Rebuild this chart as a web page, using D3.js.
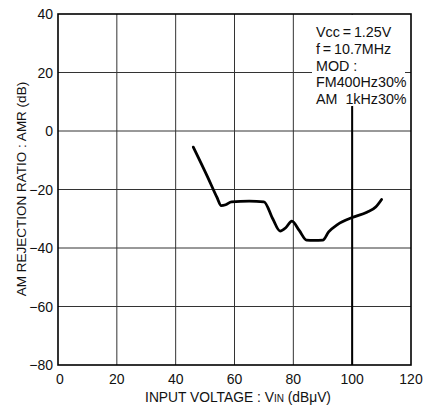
<!DOCTYPE html>
<html lang="en">
<head>
<meta charset="UTF-8">
<title>AM rejection ratio</title>
<script src="https://cdn.jsdelivr.net/npm/d3@7"></script>
<style>
  body { margin: 0; background: #fff; }
  text { font-family: "Liberation Sans", Arial, sans-serif; fill: #111; }
</style>
</head>
<body>
<svg width="432" height="405"></svg>
<script>
// curve: input voltage (dBuV) vs AMR (dB)
const vin = [46, 51, 54, 55.5, 57, 59, 65, 70, 73, 75.5, 77.5, 79.5, 82, 84.5, 87, 90, 92, 95, 100, 105, 108, 110];
const amr = [-5.5, -16, -22.6, -25.5, -25.2, -24.2, -24, -24.2, -30, -34.2, -33, -30.8, -34, -37.3, -37.4, -37.3, -34.5, -32, -29.6, -27.8, -26, -23.4];
const xTicks = [0, 20, 40, 60, 80, 100, 120];
const yTicks = [-80, -60, -40, -20, 0, 20, 40];
const notes = ["Vcc\u2009=\u20091.25V", "f\u2009=\u200910.7MHz", "MOD :", "FM400Hz30%", "AM  1kHz30%"];

const svg = d3.select("svg");
const x = d3.scaleLinear().domain([0, 120]).range([58, 411]);
const y = d3.scaleLinear().domain([-80, 40]).range([365, 14]);

// grid
svg.append("g").selectAll("line").data(xTicks.slice(1, -1)).enter().append("line")
  .attr("x1", d => x(d)).attr("x2", d => x(d))
  .attr("y1", y(40)).attr("y2", y(-80))
  .attr("stroke", "#333").attr("stroke-width", 1);
svg.append("g").selectAll("line").data(yTicks.slice(1, -1)).enter().append("line")
  .attr("x1", x(0)).attr("x2", x(120))
  .attr("y1", d => y(d)).attr("y2", d => y(d))
  .attr("stroke", "#333").attr("stroke-width", 1);

// blank area behind the notes
svg.append("rect").attr("x", 312).attr("y", y(40) + 1).attr("width", 93).attr("height", 92)
  .attr("fill", "#fff");

// marker line at 100 dBuV
svg.append("line")
  .attr("x1", x(100)).attr("x2", x(100)).attr("y1", 106).attr("y2", y(-80))
  .attr("stroke", "#000").attr("stroke-width", 2);

// frame
svg.append("rect").attr("x", x(0)).attr("y", y(40))
  .attr("width", x(120) - x(0)).attr("height", y(-80) - y(40))
  .attr("fill", "none").attr("stroke", "#000").attr("stroke-width", 1.6);

// tick labels
svg.append("g").selectAll("text").data(yTicks).enter().append("text")
  .attr("x", 53).attr("y", d => y(d) + 5)
  .attr("text-anchor", "end").attr("font-size", 14)
  .text(d => d < 0 ? "\u2212" + Math.abs(d) : d);
svg.append("g").selectAll("text").data(xTicks).enter().append("text")
  .attr("x", d => x(d) + (d === 0 ? 2 : 0)).attr("y", 384)
  .attr("text-anchor", "middle").attr("font-size", 14)
  .text(d => d);

// axis titles
const xt = svg.append("text").attr("x", 238).attr("y", 402)
  .attr("text-anchor", "middle").attr("font-size", 13.8);
xt.append("tspan").text("INPUT VOLTAGE : V");
xt.append("tspan").attr("font-size", 10).text("IN");
xt.append("tspan").text(" (dB\u03bcV)");

svg.append("text")
  .attr("transform", "translate(26,189) rotate(-90)")
  .attr("text-anchor", "middle").attr("font-size", 13.5)
  .text("AM REJECTION RATIO : AMR (dB)");

// notes
svg.append("g").selectAll("text").data(notes).enter().append("text")
  .attr("x", 316).attr("y", (d, i) => 37 + i * 16.8)
  .attr("font-size", 14.3).attr("xml:space", "preserve")
  .style("white-space", "pre")
  .text(d => d);

// curve
const pts = vin.map((v, i) => [v, amr[i]]);
svg.append("path").datum(pts)
  .attr("fill", "none").attr("stroke", "#000").attr("stroke-width", 2.8)
  .attr("stroke-linejoin", "round").attr("stroke-linecap", "round")
  .attr("d", d3.line().x(d => x(d[0])).y(d => y(d[1])).curve(d3.curveMonotoneX));
</script>
</body>
</html>
